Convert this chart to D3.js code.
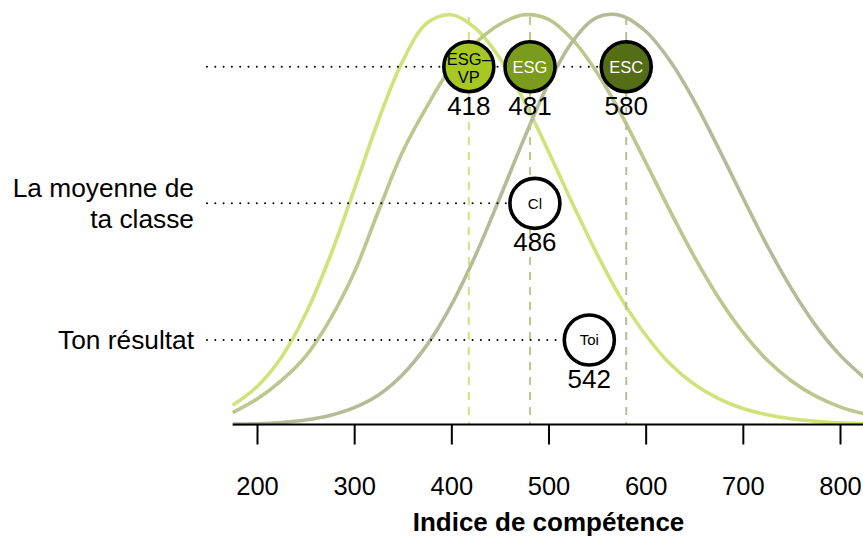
<!DOCTYPE html>
<html><head><meta charset="utf-8">
<script src="https://cdn.jsdelivr.net/npm/d3@7"></script>
<style>
body{margin:0;background:#fff}
svg{display:block}
text{font-family:"Liberation Sans",Arial,Helvetica,sans-serif}
</style>
</head><body>
<svg id="chart" width="863" height="537"></svg>
<script>
// ---- data ----
const scoreGrid = [175,200,225,250,275,300,325,350,375,400,425,450,475,500,525,550,575,600,625,650,675,700,725,750,775,800,825];
const densityESGVP = [0.047,0.092,0.163,0.269,0.408,0.572,0.741,0.886,0.978,0.998,0.965,0.892,0.788,0.665,0.537,0.415,0.306,0.218,0.148,0.098,0.063,0.039,0.024,0.014,0.008,0.004,0.002];
const densityESG   = [0.029,0.062,0.107,0.166,0.255,0.370,0.520,0.665,0.775,0.870,0.930,0.975,0.998,0.987,0.937,0.857,0.755,0.639,0.521,0.409,0.309,0.225,0.157,0.106,0.069,0.043,0.026];
const densityESC   = [0.001,0.002,0.005,0.011,0.022,0.041,0.072,0.122,0.194,0.291,0.413,0.553,0.697,0.831,0.934,0.992,0.996,0.958,0.886,0.788,0.673,0.553,0.436,0.331,0.241,0.169,0.114];
const groupNames  = ["ESG–VP","ESG","ESC"];
const groupMeans  = [418,481,580];
const classLabel  = "Cl";
const classMean   = 486;
const studentLabel = "Toi";
const studentScore = 542;
const tickValues  = [200,300,400,500,600,700,800];
const rowLabels   = [[], ["La moyenne de","ta classe"], ["Ton résultat"]];
const axisTitle   = "Indice de compétence";

// ---- styles ----
const curveColors  = ["#cee47a","#bbc78d","#b4bc97"];
const markerFills  = ["#a7c823","#7b9b1c","#566d18"];
const markerText   = ["#000","#fff","#fff"];
const font = '"Liberation Sans",Arial,sans-serif';

const svg = d3.select("#chart");
const x = d3.scaleLinear().domain([200,800]).range([257,840]);
const y = d3.scaleLinear().domain([0,1]).range([424.5,14]);
const row = d3.scalePoint().domain([0,1,2]).range([66.7,340]);

// curves
const densities = [densityESGVP, densityESG, densityESC];
const line = d3.line().x(d => x(d[0])).y(d => y(d[1])).curve(d3.curveCatmullRom.alpha(0.5));
densities.forEach((dens,i) => {
  svg.append("path")
    .datum(scoreGrid.map((s,k) => [s, dens[k]]))
    .attr("d", line)
    .attr("fill","none")
    .attr("stroke", curveColors[i])
    .attr("stroke-width", 3.6);
});

// dashed vertical lines at group means
groupMeans.forEach((m,i) => {
  svg.append("line")
    .attr("x1", x(m)).attr("x2", x(m))
    .attr("y1", 17).attr("y2", y(0))
    .attr("stroke", curveColors[i])
    .attr("stroke-width", 2)
    .attr("stroke-dasharray", "8,7");
});

// axis
svg.append("line")
  .attr("x1", x(175)).attr("x2", x(825))
  .attr("y1", y(0)).attr("y2", y(0))
  .attr("stroke","#000").attr("stroke-width",2.2);
const axis = d3.axisBottom(x).tickValues(tickValues).tickSize(20).tickPadding(32).tickFormat(d3.format("d"));
const ax = svg.append("g").attr("transform", `translate(0,${y(0)})`).call(axis);
ax.select(".domain").remove();
ax.selectAll(".tick line").attr("stroke","#000").attr("stroke-width",2);
ax.selectAll(".tick text").attr("fill","#000").style("font-size","25.5px").style("font-family",font);

svg.append("text")
  .attr("x", x(500)).attr("y", 531)
  .attr("text-anchor","middle")
  .style("font-size","26px").style("font-weight","bold").style("font-family",font)
  .text(axisTitle);

// dotted guide lines
const dotEnds = [x(groupMeans[2]), x(classMean), x(studentScore)];
dotEnds.forEach((xe,r) => {
  svg.append("line")
    .attr("x1", 207).attr("x2", xe)
    .attr("y1", row(r)).attr("y2", row(r))
    .attr("stroke","#000").attr("stroke-width",2)
    .attr("stroke-linecap","round")
    .attr("stroke-dasharray","0,8.3");
});

// row labels
rowLabels.forEach((lines,r) => {
  const n = lines.length;
  lines.forEach((t,k) => {
    svg.append("text")
      .attr("x", 194)
      .attr("y", row(r) + 9 + (k - (n-1)/2) * 31)
      .attr("text-anchor","end")
      .style("font-size","26.3px").style("font-family",font)
      .text(t);
  });
});

// markers
function marker(cx, cy, fill, label, tcol, value, fs) {
  svg.append("circle").attr("cx",cx).attr("cy",cy).attr("r",25)
    .attr("fill",fill).attr("stroke","#000").attr("stroke-width",3.6);
  const parts = label.split("–");
  if (parts.length > 1 && parts[1] !== "") {
    svg.append("text").attr("x",cx).attr("y",cy - 2).attr("text-anchor","middle")
      .style("font-size",fs+"px").attr("fill",tcol).text(parts[0] + "–");
    svg.append("text").attr("x",cx).attr("y",cy + 16).attr("text-anchor","middle")
      .style("font-size",fs+"px").attr("fill",tcol).text(parts[1]);
  } else {
    svg.append("text").attr("x",cx).attr("y",cy + fs*0.36).attr("text-anchor","middle")
      .style("font-size",fs+"px").attr("fill",tcol).text(label);
  }
  svg.append("text").attr("x",cx).attr("y",cy + 48).attr("text-anchor","middle")
    .style("font-size","26px").attr("fill","#000").text(value);
}
groupMeans.forEach((m,i) => marker(x(m), row(0), markerFills[i], groupNames[i], markerText[i], m, 16.5));
marker(x(classMean), row(1), "#fff", classLabel, "#000", classMean, 15);
marker(x(studentScore), row(2), "#fff", studentLabel, "#000", studentScore, 15);
</script>
</body></html>
